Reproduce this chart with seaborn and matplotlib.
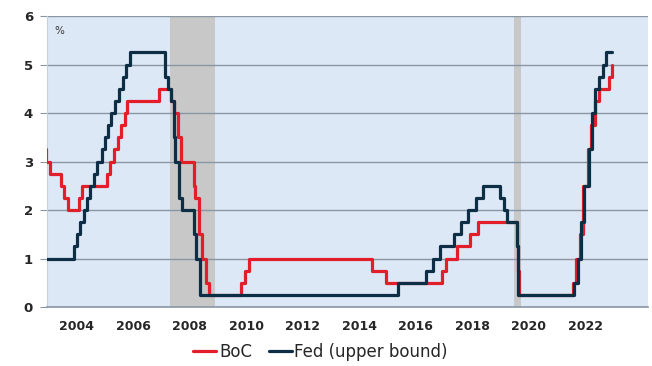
import pandas as pd
import numpy as np
import matplotlib
matplotlib.use("Agg")
import matplotlib.pyplot as plt
import seaborn as sns

# =====================================================
# DATA (policy rate changes)
# =====================================================

boc_dates = [
    "2003-07-01", "2003-07-15", "2003-09-03", "2004-01-20", "2004-03-02",
    "2004-04-13", "2004-09-08", "2004-10-19", "2005-09-07", "2005-10-18",
    "2005-12-06", "2006-01-24", "2006-03-07", "2006-04-25", "2006-05-24",
    "2007-07-10", "2007-12-04", "2008-01-22", "2008-03-04", "2008-04-22",
    "2008-10-08", "2008-10-21", "2008-12-09", "2009-01-20", "2009-03-03",
    "2009-04-21", "2010-06-01", "2010-07-20", "2010-09-08", "2015-01-21",
    "2015-07-15", "2017-07-12", "2017-09-06", "2018-01-17", "2018-07-11",
    "2018-10-24", "2020-03-04", "2020-03-16", "2020-03-27", "2022-03-02",
    "2022-04-13", "2022-06-01", "2022-07-13", "2022-09-07", "2022-10-26",
    "2022-12-07", "2023-01-25", "2023-06-07", "2023-07-12", "2023-07-20",
]
boc_rate = [
    3.25, 3.00, 2.75, 2.50, 2.25,
    2.00, 2.25, 2.50, 2.75, 3.00,
    3.25, 3.50, 3.75, 4.00, 4.25,
    4.50, 4.25, 4.00, 3.50, 3.00,
    2.50, 2.25, 1.50, 1.00, 0.50,
    0.25, 0.50, 0.75, 1.00, 0.75,
    0.50, 0.75, 1.00, 1.25, 1.50,
    1.75, 1.25, 0.75, 0.25, 0.50,
    1.00, 1.50, 2.50, 3.25, 3.75,
    4.25, 4.50, 4.75, 5.00, 5.00,
]

fed_dates = [
    "2003-07-01", "2004-06-30", "2004-08-10", "2004-09-21", "2004-11-10",
    "2004-12-14", "2005-02-02", "2005-03-22", "2005-05-03", "2005-06-30",
    "2005-08-09", "2005-09-20", "2005-11-01", "2005-12-13", "2006-01-31",
    "2006-03-28", "2006-05-10", "2006-06-29", "2007-09-18", "2007-10-31",
    "2007-12-11", "2008-01-22", "2008-01-30", "2008-03-18", "2008-04-30",
    "2008-10-08", "2008-10-29", "2008-12-16", "2015-12-16", "2016-12-14",
    "2017-03-15", "2017-06-14", "2017-12-13", "2018-03-21", "2018-06-13",
    "2018-09-26", "2018-12-19", "2019-07-31", "2019-09-18", "2019-10-30",
    "2020-03-03", "2020-03-15", "2022-03-16", "2022-05-04", "2022-06-15",
    "2022-07-27", "2022-09-21", "2022-11-02", "2022-12-14", "2023-02-01",
    "2023-03-22", "2023-05-03", "2023-07-20",
]
fed_rate = [
    1.00, 1.25, 1.50, 1.75, 2.00,
    2.25, 2.50, 2.75, 3.00, 3.25,
    3.50, 3.75, 4.00, 4.25, 4.50,
    4.75, 5.00, 5.25, 4.75, 4.50,
    4.25, 3.50, 3.00, 2.25, 2.00,
    1.50, 1.00, 0.25, 0.50, 0.75,
    1.00, 1.25, 1.50, 1.75, 2.00,
    2.25, 2.50, 2.25, 2.00, 1.75,
    1.25, 0.25, 0.50, 1.00, 1.75,
    2.50, 3.25, 4.00, 4.50, 4.75,
    5.00, 5.25, 5.25,
]

recession_start = ["2007-12-01", "2020-02-01"]
recession_end = ["2009-06-30", "2020-04-30"]

tick_years = [2004, 2006, 2008, 2010, 2012, 2014, 2016, 2018, 2020, 2022]

RED = "#E31E2B"
NAVY = "#0D2E44"
BG = "#DCE8F6"
GRID = "#8A96A3"


def to_year(dates):
    d = pd.to_datetime(pd.Series(dates))
    return (d.dt.year + (d.dt.dayofyear - 1) / 365.25).values


boc = pd.DataFrame({"year": to_year(boc_dates), "rate": boc_rate})
fed = pd.DataFrame({"year": to_year(fed_dates), "rate": fed_rate})

# =====================================================
# PLOT
# =====================================================

sns.set_style("white")
plt.rcParams["font.family"] = ["DejaVu Sans"]

fig = plt.figure(figsize=(6.52, 3.66), dpi=100)
ax = fig.add_axes([0.072, 0.161, 0.922, 0.795])
ax.set_facecolor(BG)

for s, e in zip(to_year(recession_start), to_year(recession_end)):
    ax.axvspan(s, e, color="#C8C8C8", lw=0, zorder=1)

for y in [1, 2, 3, 4, 5, 6]:
    ax.axhline(y, color=GRID, lw=1.0, zorder=1.5)

sns.lineplot(data=boc, x="year", y="rate", ax=ax, color=RED, lw=2.3,
             drawstyle="steps-post", label="BoC", zorder=3)
sns.lineplot(data=fed, x="year", y="rate", ax=ax, color=NAVY, lw=2.3,
             drawstyle="steps-post", label="Fed (upper bound)", zorder=4)

ax.set_xlim(2003.55, 2024.82)
ax.set_ylim(0, 6)
ax.set_xticks([y + 0.6 for y in tick_years])
ax.set_xticklabels([str(y) for y in tick_years], fontsize=9, fontweight="bold")
ax.set_yticks([0, 1, 2, 3, 4, 5, 6])
ax.set_yticklabels(["0", "1", "2", "3", "4", "5", "6"], fontsize=9.5, fontweight="bold")
ax.tick_params(axis="x", length=0, pad=9)
ax.tick_params(axis="y", length=5, color=GRID, pad=5, left=True)
ax.set_xlabel("")
ax.set_ylabel("")

for side in ["top", "right"]:
    ax.spines[side].set_visible(False)
ax.spines["left"].set_color("#C9CFD6")
ax.spines["bottom"].set_color(GRID)
ax.spines["bottom"].set_linewidth(1.2)

ax.text(0.012, 0.965, "%", transform=ax.transAxes, fontsize=7.5,
        ha="left", va="top", color="#333333")

ax.legend(loc="center", bbox_to_anchor=(0.455, -0.155), ncol=2,
          frameon=False, fontsize=12, handlelength=1.4, handletextpad=0.15,
          columnspacing=1.0, borderpad=0.1)

fig.savefig("out.png", dpi=100)
